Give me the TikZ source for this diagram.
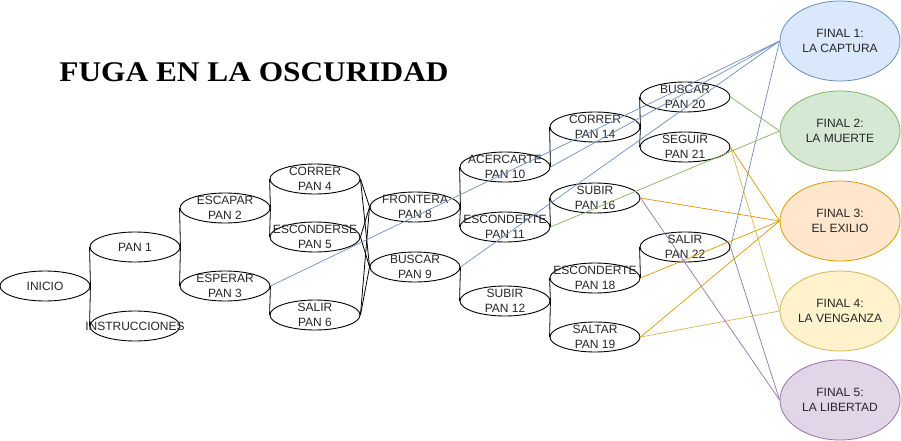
\documentclass[tikz,border=0pt]{standalone}
\usepackage{fontspec}
\setmainfont{Liberation Sans}
\newfontfamily\titlefont{Liberation Serif}
\usetikzlibrary{shapes.geometric}
\definecolor{bluefill}{HTML}{DAE8FC}\definecolor{bluedraw}{HTML}{6C8EBF}
\definecolor{greenfill}{HTML}{D5E8D4}\definecolor{greendraw}{HTML}{82B366}
\definecolor{orangefill}{HTML}{FFE6CC}\definecolor{orangedraw}{HTML}{D79B00}
\definecolor{yellowfill}{HTML}{FFF2CC}\definecolor{yellowdraw}{HTML}{D6B656}
\definecolor{purplefill}{HTML}{E1D5E7}\definecolor{purpledraw}{HTML}{9673A6}
\tikzset{
  pan/.style={draw=black, fill=white, ellipse, minimum width=90, minimum height=30, inner sep=0pt, line width=0.9pt},
  txt/.style={align=center, font=\fontsize{12}{14.5}\selectfont, inner sep=0pt, text=black!85},
  finalnode/.style={ellipse, minimum width=120, minimum height=80, inner sep=0pt, line width=0.8pt},
  link/.style={line width=0.8pt, black},
  clink/.style={line width=0.7pt},
}
\newcommand{\pannode}[4]{\node[pan] (#1) at (#2,#3) {}; \node[txt] at (#1) {#4};}
\begin{document}
\begin{tikzpicture}[x=1pt,y=-1pt]
\useasboundingbox (0,0) rectangle (901,441);
\fill[white] (0,0) rectangle (901,441);
\node[anchor=base] (title) at (254,82) {\scalebox{1.1}[1]{\titlefont\bfseries\fontsize{28.5}{30}\selectfont FUGA EN LA OSCURIDAD}};
\pannode{inicio}{45}{286}{INICIO}
\pannode{p1}{135}{247}{PAN 1}
\pannode{instr}{135}{326}{INSTRUCCIONES}
\pannode{p2}{225}{208}{ESCAPAR\\PAN 2}
\pannode{p3}{225}{286}{ESPERAR\\PAN 3}
\pannode{p4}{315}{179}{CORRER\\PAN 4}
\pannode{p5}{315}{237}{ESCONDERSE\\PAN 5}
\pannode{p6}{315}{315}{SALIR\\PAN 6}
\pannode{p8}{415}{207}{FRONTERA\\PAN 8}
\pannode{p9}{415}{267}{BUSCAR\\PAN 9}
\pannode{p10}{505}{167}{ACERCARTE\\PAN 10}
\pannode{p11}{505}{227}{ESCONDERTE\\PAN 11}
\pannode{p12}{505}{301}{SUBIR\\PAN 12}
\pannode{p14}{595}{127}{CORRER\\PAN 14}
\pannode{p16}{595}{198}{SUBIR\\PAN 16}
\pannode{p18}{595}{278}{ESCONDERTE\\PAN 18}
\pannode{p19}{595}{337}{SALTAR\\PAN 19}
\pannode{p20}{685}{97}{BUSCAR\\PAN 20}
\pannode{p21}{685}{147}{SEGUIR\\PAN 21}
\pannode{p22}{685}{247}{SALIR\\PAN 22}
\node[finalnode, draw=bluedraw, fill=bluefill] (f1) at (840,41) {};
\node[txt] at (f1) {FINAL 1:\\LA CAPTURA};
\node[finalnode, draw=greendraw, fill=greenfill] (f2) at (840,131) {};
\node[txt] at (f2) {FINAL 2:\\LA MUERTE};
\node[finalnode, draw=orangedraw, fill=orangefill] (f3) at (840,221) {};
\node[txt] at (f3) {FINAL 3:\\EL EXILIO};
\node[finalnode, draw=yellowdraw, fill=yellowfill] (f4) at (840,311) {};
\node[txt] at (f4) {FINAL 4:\\LA VENGANZA};
\node[finalnode, draw=purpledraw, fill=purplefill] (f5) at (840,400) {};
\node[txt] at (f5) {FINAL 5:\\LA LIBERTAD};
% black links
\draw[link] (inicio.east) -- (p1.west);
\draw[link] (inicio.east) -- (instr.west);
\draw[link] (p1.east) -- (p2.west);
\draw[link] (p1.east) -- (p3.west);
\draw[link] (p2.east) -- (p4.west);
\draw[link] (p2.east) -- (p5.west);
\draw[link] (p3.east) -- (p6.west);
\foreach \s in {p4,p5,p6}{
  \draw[link] (\s.east) -- (p8.west);
  \draw[link] (\s.east) -- (p9.west);
}
\draw[link] (p8.east) -- (p10.west);
\draw[link] (p8.east) -- (p11.west);
\draw[link] (p9.east) -- (p12.west);
\draw[link] (p10.east) -- (p14.west);
\draw[link] (p11.east) -- (p16.west);
\draw[link] (p12.east) -- (p18.west);
\draw[link] (p12.east) -- (p19.west);
\draw[link] (p14.east) -- (p20.west);
\draw[link] (p14.east) -- (p21.west);
\draw[link] (p18.east) -- (p22.west);
% coloured links
\draw[clink, bluedraw] (p3.east) -- (f1.west);
\draw[clink, bluedraw] (p9.east) -- (f1.west);
\draw[clink, bluedraw] (p10.east) -- (f1.west);
\draw[clink, bluedraw] (p22.east) -- (f1.west);
\draw[clink, greendraw] (p20.east) -- (f2.west);
\draw[clink, greendraw] (p11.east) -- (f2.west);
\draw[clink, orangedraw] (p21.east) -- (f3.west);
\draw[clink, orangedraw] (p16.east) -- (f3.west);
\draw[clink, orangedraw] (p18.east) -- (f3.west);
\draw[clink, orangedraw] (p19.east) -- (f3.west);
\draw[clink, yellowdraw] (p21.east) -- (f4.west);
\draw[clink, yellowdraw] (p19.east) -- (f4.west);
\draw[clink, purpledraw] (p16.east) -- (f5.west);
\draw[clink, purpledraw] (p22.east) -- (f5.west);
\end{tikzpicture}
\end{document}
